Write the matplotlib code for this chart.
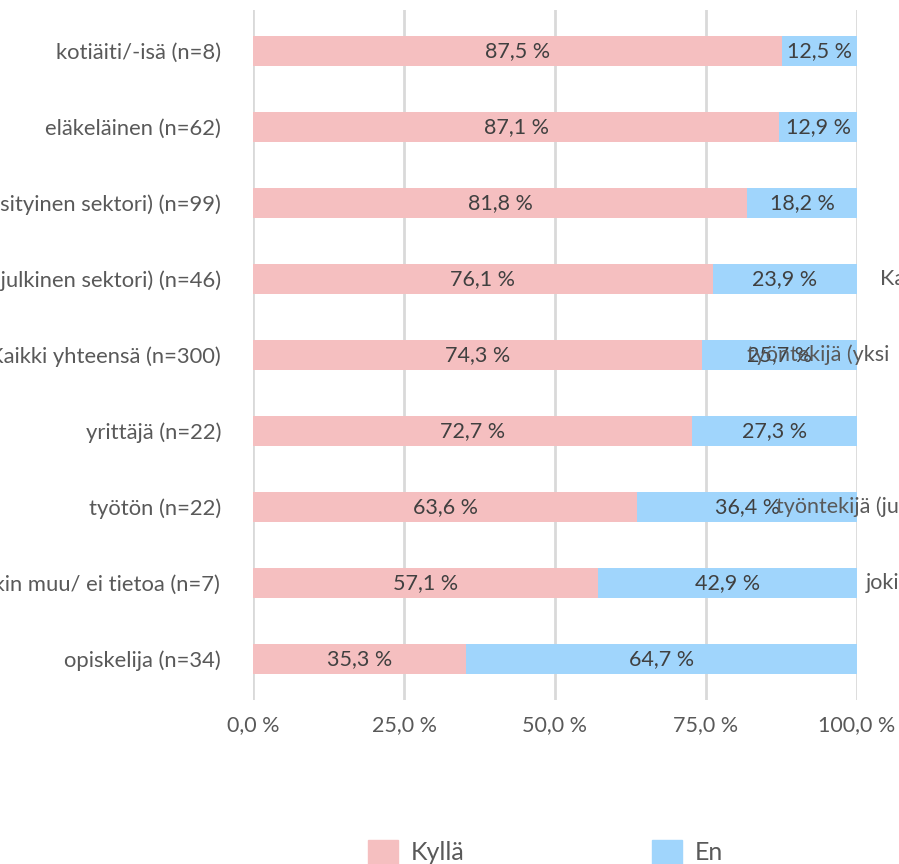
import matplotlib.pyplot as plt
from matplotlib.patches import Patch

# data (top row first)
categories = [
    "kotiäiti/-isä (n=8)",
    "eläkeläinen (n=62)",
    "työntekijä (yksityinen sektori) (n=99)",
    "työntekijä (julkinen sektori) (n=46)",
    "Kaikki yhteensä (n=300)",
    "yrittäjä (n=22)",
    "työtön (n=22)",
    "jokin muu/ ei tietoa (n=7)",
    "opiskelija (n=34)",
]
kylla = [87.5, 87.1, 81.8, 76.1, 74.3, 72.7, 63.6, 57.1, 35.3]
en = [12.5, 12.9, 18.2, 23.9, 25.7, 27.3, 36.4, 42.9, 64.7]
xticks = [0, 25, 50, 75, 100]

# label fragments that spill over on the right side of the picture
spill = [(3, "Ka", 103.8), (4, "työntekijä (yksi", 81.8), (6, "työntekijä (ju", 86.6), (7, "joki", 101.5)]

PINK = "#F5BFC0"
BLUE = "#A0D5FC"
TXT = "#595959"
FS = 15.5

plt.rcParams["font.family"] = ["Lato", "DejaVu Sans"]

fig = plt.figure(figsize=(8.99, 8.64), dpi=100)
ax = fig.add_axes([253 / 899, 1 - 700 / 864, 604 / 899, 690 / 864])

y = list(range(len(categories)))
ax.barh(y, kylla, height=0.4, color=PINK, zorder=2)
ax.barh(y, en, left=kylla, height=0.4, color=BLUE, zorder=2)

for i in y:
    ax.text(kylla[i] / 2, i, f"{kylla[i]:.1f} %".replace(".", ","), ha="center", va="center",
            fontsize=FS, color="#404040", zorder=3)
    ax.text(kylla[i] + en[i] / 2, i, f"{en[i]:.1f} %".replace(".", ","), ha="center", va="center",
            fontsize=FS, color="#404040", zorder=3)

for row, s, xpos in spill:
    ax.text(xpos, row, s, ha="left", va="center", fontsize=FS, color=TXT, clip_on=False, zorder=3)

ax.set_xlim(0, 100)
ax.set_ylim(8.54, -0.54)
ax.set_yticks(y)
ax.set_yticklabels(categories)
ax.set_xticks(xticks)
ax.set_xticklabels([f"{t:.1f} %".replace(".", ",") for t in xticks])
ax.tick_params(axis="y", length=0, pad=23, labelsize=15.8, labelcolor=TXT)
ax.tick_params(axis="x", length=0, pad=11, labelsize=FS, labelcolor=TXT)
for sp in ax.spines.values():
    sp.set_visible(False)
ax.grid(axis="x", color="#D9D9D9", linewidth=2, zorder=0)
ax.set_axisbelow(True)

handles = [Patch(color=PINK, label="Kyllä"), Patch(color=BLUE, label="En")]
fig.legend(handles=handles, loc="center", bbox_to_anchor=(0.607, 0.014), ncol=2, frameon=False,
           fontsize=18, labelcolor=TXT, handlelength=1.2, handleheight=1.1,
           handletextpad=0.5, columnspacing=7.5)

fig.savefig("out.png", dpi=100)
